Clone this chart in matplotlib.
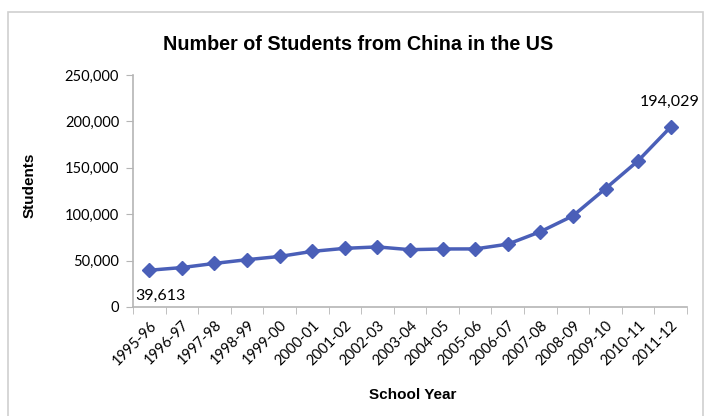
import matplotlib
matplotlib.use("Agg")
import matplotlib.pyplot as plt
from matplotlib.patches import Rectangle
from matplotlib.ticker import FuncFormatter

# school years and number of students
years = ["1995-96", "1996-97", "1997-98", "1998-99", "1999-00", "2000-01",
         "2001-02", "2002-03", "2003-04", "2004-05", "2005-06", "2006-07",
         "2007-08", "2008-09", "2009-10", "2010-11", "2011-12"]
students = [39613, 42503, 46958, 51001, 54466, 59939, 63211, 64757, 61765,
            62523, 62582, 67723, 81127, 98235, 127628, 157558, 194029]

blue = "#4a5fb8"
grey = "#b5b5b5"
label_font = "Lato"

fig = plt.figure(figsize=(7.05, 4.16), dpi=100)
fig.patches.append(Rectangle((8 / 705, -0.05), 695 / 705, 1 - 12 / 416 + 0.05,
                             transform=fig.transFigure, fill=False,
                             edgecolor="#d0d0d0", linewidth=1.2))
ax = fig.add_axes([133 / 705, 1 - 307 / 416, 554 / 705, 232 / 416])

x = list(range(len(years)))
ax.plot(x, students, color=blue, linewidth=2.5, marker="D", markersize=7,
        markeredgecolor=blue, markerfacecolor=blue)

ax.set_xlim(-0.5, len(years) - 0.5)
ax.set_ylim(0, 250000)
ax.set_yticks(range(0, 250001, 50000))
ax.yaxis.set_major_formatter(FuncFormatter(lambda v, p: f"{int(v):,}"))
ax.set_xticks(x)
ax.set_xticklabels(years, rotation=45, ha="right", rotation_mode="anchor",
                   fontsize=10.5, family=label_font)
for t in ax.get_yticklabels():
    t.set_fontsize(10.5)
    t.set_family(label_font)

# minor ticks between categories, like Excel
ax.set_xticks([i - 0.5 for i in range(len(years) + 1)], minor=True)
ax.tick_params(axis="x", which="major", length=0, pad=8)
ax.tick_params(axis="x", which="minor", length=5, color=grey, direction="out")
ax.tick_params(axis="y", length=5, color=grey, direction="out", pad=5)

for s in ["top", "right"]:
    ax.spines[s].set_visible(False)
ax.spines["left"].set_color(grey)
ax.spines["bottom"].set_color(grey)
ax.spines["left"].set_linewidth(1.2)
ax.spines["bottom"].set_linewidth(1.2)

ax.annotate("39,613", (0, students[0]), xytext=(-10, -21), textcoords="offset points",
            ha="left", fontsize=11.5, family=label_font)
ax.annotate("194,029", (16, students[-1]), xytext=(-1, 15), textcoords="offset points",
            ha="center", fontsize=11.5, family=label_font)

fig.text(358 / 705, 1 - 45 / 416, "Number of Students from China in the US",
         ha="center", va="center", fontsize=14.2, fontweight="bold",
         family="Liberation Sans")
fig.text(413 / 705, 1 - 395 / 416, "School Year", ha="center", va="center",
         fontsize=11, fontweight="bold", family="Liberation Sans")
fig.text(30 / 705, 1 - 185 / 416, "Students", ha="center", va="center",
         rotation=90, fontsize=11, fontweight="bold", family="Liberation Sans")

fig.savefig("out.png", dpi=100)
